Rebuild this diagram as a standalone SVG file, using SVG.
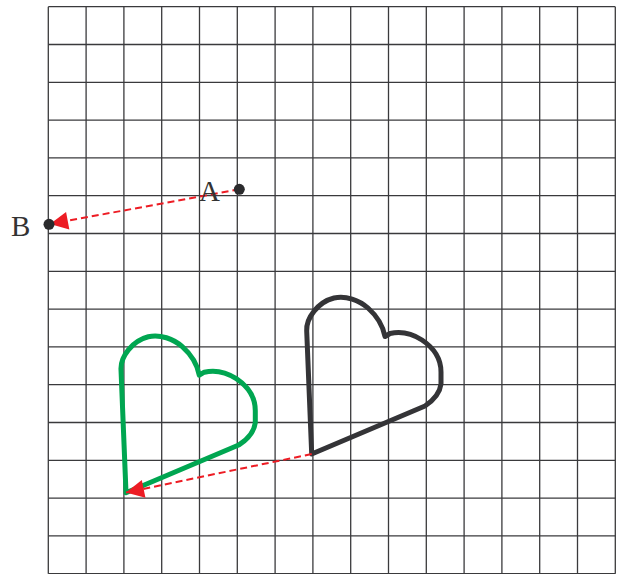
<svg xmlns="http://www.w3.org/2000/svg" width="620" height="574" viewBox="0 0 620 574">
<style>
.grid line{stroke:#3a3a3c;stroke-width:1.3}
.heart{fill:none;stroke-width:5;stroke-linejoin:round;stroke-linecap:round}
.dash{fill:none;stroke:#ed1c24;stroke-width:2;stroke-dasharray:7 4}
.lbl{font-family:"Liberation Serif",serif;font-size:29px;fill:#333}
</style>
<defs>
<marker id="ah" markerUnits="userSpaceOnUse" markerWidth="20" markerHeight="20" viewBox="0 0 20 20" refX="19" refY="10" orient="auto">
<path d="M1,1 L19,10 L1,19 Z" fill="#ed1c24"/>
</marker>
<path id="heartShape" d="M311.7,454 L306.7,331 C306,318 318,302 334,298 C346,295.5 359,300 368,308 C377,316 383,326 385,336.5 L390,333.5 C401,331 412,333.5 422,340 C434,348 441,358 441,372 L441,384 C440,392 434,400 425,406 Z"/>
</defs>
<g id="grid" class="grid">
<line x1="48.3" y1="6.7" x2="48.3" y2="573.7"/>
<line x1="86.1" y1="6.7" x2="86.1" y2="573.7"/>
<line x1="123.9" y1="6.7" x2="123.9" y2="573.7"/>
<line x1="161.7" y1="6.7" x2="161.7" y2="573.7"/>
<line x1="199.5" y1="6.7" x2="199.5" y2="573.7"/>
<line x1="237.3" y1="6.7" x2="237.3" y2="573.7"/>
<line x1="275.1" y1="6.7" x2="275.1" y2="573.7"/>
<line x1="312.9" y1="6.7" x2="312.9" y2="573.7"/>
<line x1="350.7" y1="6.7" x2="350.7" y2="573.7"/>
<line x1="388.5" y1="6.7" x2="388.5" y2="573.7"/>
<line x1="426.3" y1="6.7" x2="426.3" y2="573.7"/>
<line x1="464.1" y1="6.7" x2="464.1" y2="573.7"/>
<line x1="501.9" y1="6.7" x2="501.9" y2="573.7"/>
<line x1="539.7" y1="6.7" x2="539.7" y2="573.7"/>
<line x1="577.5" y1="6.7" x2="577.5" y2="573.7"/>
<line x1="615.3" y1="6.7" x2="615.3" y2="573.7"/>
<line x1="48.3" y1="6.7" x2="615.3" y2="6.7"/>
<line x1="48.3" y1="44.5" x2="615.3" y2="44.5"/>
<line x1="48.3" y1="82.3" x2="615.3" y2="82.3"/>
<line x1="48.3" y1="120.1" x2="615.3" y2="120.1"/>
<line x1="48.3" y1="157.9" x2="615.3" y2="157.9"/>
<line x1="48.3" y1="195.7" x2="615.3" y2="195.7"/>
<line x1="48.3" y1="233.5" x2="615.3" y2="233.5"/>
<line x1="48.3" y1="271.3" x2="615.3" y2="271.3"/>
<line x1="48.3" y1="309.1" x2="615.3" y2="309.1"/>
<line x1="48.3" y1="346.9" x2="615.3" y2="346.9"/>
<line x1="48.3" y1="384.7" x2="615.3" y2="384.7"/>
<line x1="48.3" y1="422.5" x2="615.3" y2="422.5"/>
<line x1="48.3" y1="460.3" x2="615.3" y2="460.3"/>
<line x1="48.3" y1="498.1" x2="615.3" y2="498.1"/>
<line x1="48.3" y1="535.9" x2="615.3" y2="535.9"/>
<line x1="48.3" y1="573.7" x2="615.3" y2="573.7"/>
</g>
<g id="heart-original">
<use href="#heartShape" class="heart" stroke="#343437"/>
</g>
<g id="heart-image">
<use href="#heartShape" class="heart" stroke="#00a651" transform="translate(-185.7,38.7)"/>
</g>
<g id="connectors">
<line class="dash" x1="239.3" y1="189.3" x2="50" y2="224" marker-end="url(#ah)"/>
<line class="dash" x1="311.7" y1="454" x2="126" y2="492.5" marker-end="url(#ah)"/>
</g>
<g id="point-A">
<circle cx="239.3" cy="189.3" r="5.5" fill="#2b2b2d"/>
<text class="lbl" x="199" y="201">A</text>
</g>
<g id="point-B">
<circle cx="49" cy="224.3" r="5.5" fill="#2b2b2d"/>
<text class="lbl" x="11" y="236">B</text>
</g>
</svg>
